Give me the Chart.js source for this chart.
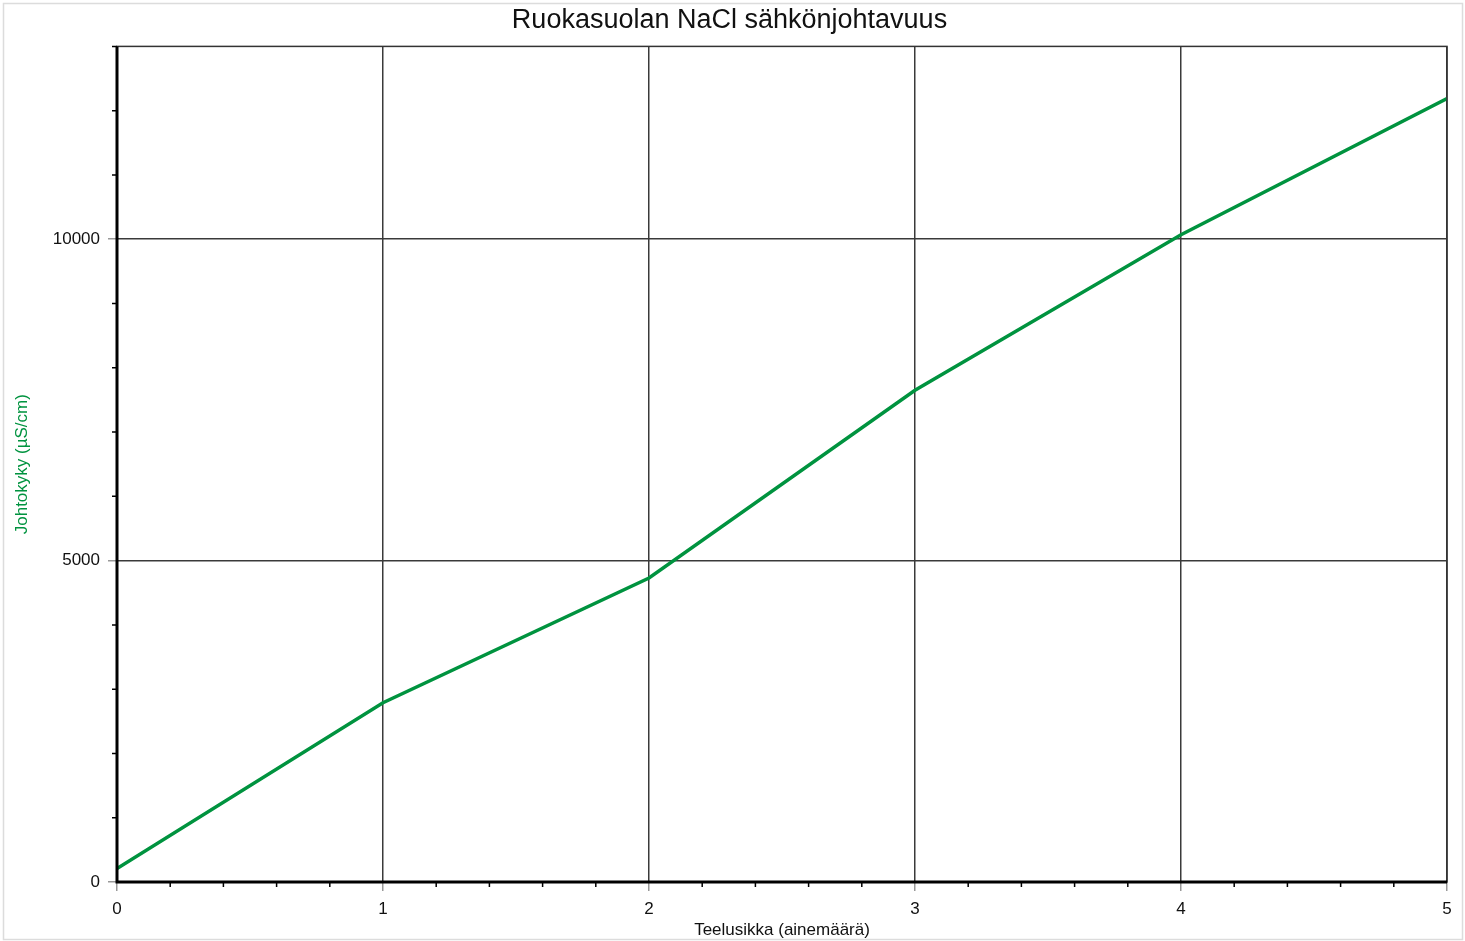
<!DOCTYPE html>
<html>
<head>
<meta charset="utf-8">
<script src="https://cdn.jsdelivr.net/npm/chart.js@4/dist/chart.umd.min.js"></script>
<style>
  html, body { margin: 0; padding: 0; background: #fff; }
  #wrap { width: 1465px; height: 941px; position: relative; }
</style>
</head>
<body>
<div id="wrap"><canvas id="c"></canvas></div>
<script>
// --- data ---
const teaspoons = [0, 1, 2, 3, 4, 5];
const conductivity = [210, 2790, 4730, 7650, 10070, 12190];
const yTickLabels = [0, 5000, 10000];
const xTickLabels = [0, 1, 2, 3, 4, 5];

const GREEN = '#00933f';
const FONT = '"Liberation Sans", Arial, sans-serif';

const isMajorX = v => xTickLabels.some(t => Math.abs(t - v) < 1e-6);
const isMajorY = v => yTickLabels.includes(Math.round(v));

// frame, outer border and minor tick marks
const framePlugin = {
    id: 'frame',
    beforeDraw(chart) {
        const c = chart.ctx;
        c.save();
        c.strokeStyle = '#dcdcdc';
        c.lineWidth = 1.5;
        c.strokeRect(3.5, 3.5, chart.width - 6, chart.height - 5);
        c.restore();
    },
    afterDraw(chart) {
        const c = chart.ctx;
        const a = chart.chartArea;
        const xs = chart.scales.x, ys = chart.scales.y;
        c.save();
        c.strokeStyle = '#333';
        c.lineWidth = 1.5;
        c.strokeRect(a.left, a.top, a.right - a.left, a.bottom - a.top);
        c.strokeStyle = '#000';
        c.lineWidth = 1.5;
        c.beginPath();
        xs.ticks.forEach(t => {
            if (isMajorX(t.value)) return;
            const px = xs.getPixelForValue(t.value);
            c.moveTo(px, a.bottom);
            c.lineTo(px, a.bottom + 5);
        });
        ys.ticks.forEach(t => {
            if (isMajorY(t.value)) return;
            const py = ys.getPixelForValue(t.value);
            c.moveTo(a.left - 5, py);
            c.lineTo(a.left, py);
        });
        c.stroke();
        // thick left / bottom axes on top
        c.lineWidth = 3;
        c.beginPath();
        c.moveTo(a.left, a.top);
        c.lineTo(a.left, a.bottom);
        c.lineTo(a.right, a.bottom);
        c.stroke();
        c.restore();
    }
};

const ctx = document.getElementById('c').getContext('2d');
new Chart(ctx, {
    type: 'line',
    data: {
        datasets: [{
            label: 'Johtokyky',
            data: teaspoons.map((x, i) => ({ x: x, y: conductivity[i] })),
            borderColor: GREEN,
            borderWidth: 3.5,
            pointRadius: 0,
            tension: 0,
            fill: false
        }]
    },
    options: {
        responsive: true,
        maintainAspectRatio: false,
        animation: false,
        layout: { padding: { left: 12, right: 18, top: 0, bottom: 0 } },
        scales: {
            x: {
                type: 'linear',
                min: 0,
                max: 5,
                afterFit: s => { s.height = 59; },
                ticks: {
                    stepSize: 0.2,
                    autoSkip: false,
                    maxRotation: 0,
                    padding: 8,
                    color: '#111',
                    font: { family: FONT, size: 17 },
                    callback: v => isMajorX(v) ? String(Math.round(v)) : ''
                },
                grid: {
                    color: c => isMajorX(c.tick.value) ? '#3a3a3a' : 'rgba(0,0,0,0)',
                    lineWidth: 1.5,
                    tickColor: c => isMajorX(c.tick.value) ? '#999' : 'rgba(0,0,0,0)',
                    tickLength: 9
                },
                border: { display: false },
                title: {
                    display: true,
                    text: 'Teelusikka (ainemäärä)',
                    color: '#111',
                    font: { family: FONT, size: 17 },
                    padding: { top: 0, bottom: 0 }
                }
            },
            y: {
                min: 0,
                max: 13000,
                afterFit: s => { s.width = 105; },
                ticks: {
                    stepSize: 1000,
                    autoSkip: false,
                    padding: 8,
                    color: '#111',
                    font: { family: FONT, size: 17 },
                    callback: v => isMajorY(v) ? String(v) : ''
                },
                grid: {
                    color: c => isMajorY(c.tick.value) ? '#3a3a3a' : 'rgba(0,0,0,0)',
                    lineWidth: 1.5,
                    tickColor: c => isMajorY(c.tick.value) ? '#999' : 'rgba(0,0,0,0)',
                    tickLength: 9
                },
                border: { display: false },
                title: {
                    display: true,
                    text: 'Johtokyky (µS/cm)',
                    color: GREEN,
                    font: { family: FONT, size: 17 },
                    padding: { top: 0, bottom: 0 }
                }
            }
        },
        plugins: {
            legend: { display: false },
            tooltip: { enabled: false },
            title: {
                display: true,
                text: 'Ruokasuolan NaCl sähkönjohtavuus',
                color: '#111',
                font: { family: FONT, size: 27, weight: 'normal' },
                padding: { top: 4, bottom: 10 }
            }
        }
    },
    plugins: [framePlugin]
});
</script>
</body>
</html>
